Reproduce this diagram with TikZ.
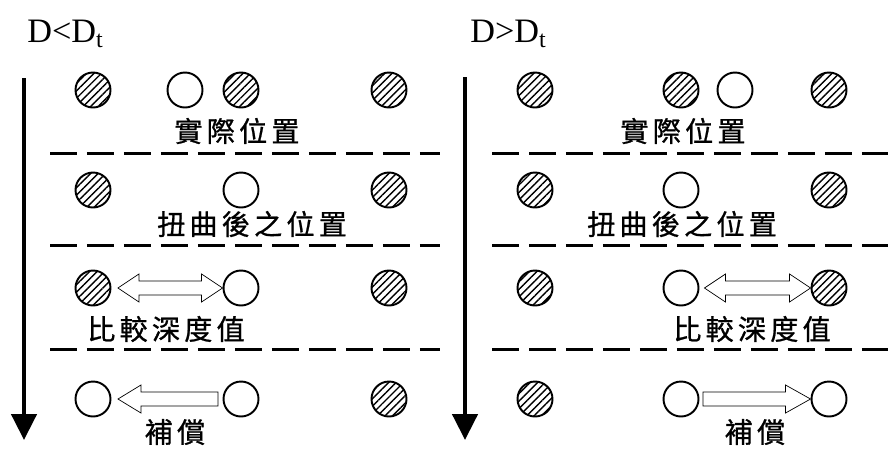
\documentclass[tikz,border=0pt]{standalone}
\usepackage{fontspec}
\setmainfont{Liberation Serif}
\newfontfamily\cjk[LetterSpace=15,FakeBold=0.8]{Noto Sans CJK TC}
\usetikzlibrary{arrows.meta,calc,patterns.meta}

\tikzset{
 dot/.style={circle,draw,line width=1.1pt,minimum size=0.7cm,inner sep=0pt},
 hdot/.style={dot,pattern={Lines[angle=45,distance=3pt,line width=0.8pt]}},
 lbl/.style={font=\cjk\fontsize{16pt}{18pt}\selectfont,inner sep=0pt},
 ttl/.style={font=\fontsize{19.5pt}{22pt}\selectfont,anchor=base west,inner sep=0pt},
 sep/.style={line width=1.7pt,dash pattern=on 0.54cm off 0.2cm},
 timeline/.style={line width=2.6pt,-{Triangle[width=0.5cm,length=0.52cm]}},
 ba gap/.store in=\bagap, ba tip/.store in=\batip, ba head/.store in=\bahead,
 ba gap=0.1cm, ba tip=0cm, ba head=0.42cm,
 % hollow block arrow, one head
 barrow/.style={draw,line width=1pt,to path={
   ($(\tikztostart)!\bagap!(\tikztotarget)$) coordinate (ba-s)
   ($(\tikztotarget)!\batip!(\tikztostart)$) coordinate (ba-t)
   ($(ba-t)!\bahead!(ba-s)$) coordinate (ba-p)
   ($(ba-s)!0.14cm!90:(ba-t)$) -- ($(ba-p)!0.14cm!90:(ba-t)$)
   -- ($(ba-p)!0.28cm!90:(ba-t)$) -- (ba-t)
   -- ($(ba-p)!0.28cm!-90:(ba-t)$) -- ($(ba-p)!0.14cm!-90:(ba-t)$)
   -- ($(ba-s)!0.14cm!-90:(ba-t)$) -- cycle}},
 % hollow block arrow, two heads
 dbarrow/.style={draw,line width=1pt,to path={
   ($(\tikztostart)!\bagap!(\tikztotarget)$) coordinate (ba-s)
   ($(\tikztotarget)!\batip!(\tikztostart)$) coordinate (ba-t)
   ($(ba-s)!\bahead!(ba-t)$) coordinate (ba-q)
   ($(ba-t)!\bahead!(ba-s)$) coordinate (ba-p)
   (ba-s) -- ($(ba-q)!0.28cm!90:(ba-t)$) -- ($(ba-q)!0.14cm!90:(ba-t)$)
   -- ($(ba-p)!0.14cm!90:(ba-t)$) -- ($(ba-p)!0.28cm!90:(ba-t)$) -- (ba-t)
   -- ($(ba-p)!0.28cm!-90:(ba-t)$) -- ($(ba-p)!0.14cm!-90:(ba-t)$)
   -- ($(ba-q)!0.14cm!-90:(ba-t)$) -- ($(ba-q)!0.28cm!-90:(ba-t)$) -- cycle}},
}

\begin{document}
\begin{tikzpicture}[x=0.02cm,y=-0.02cm]
 \useasboundingbox (0,0) rectangle (888,458);

 % D < Dt
 \node[ttl] (ltitle) at (27,42) {D<D\textsubscript{t}};
 \coordinate (ltop) at (24,78);
 \coordinate (lbot) at (24,440);
 \draw[timeline] (ltop) -- (lbot);

 \node[hdot] (la1) at (93,90) {};
 \node[dot] (lo1) at (185,90) {};
 \node[hdot] (lb1) at (241,90) {};
 \node[hdot] (lc1) at (389,90) {};
 \node[lbl] (lt1) at (237,131) {實際位置};
 \draw[sep] (50,153) -- (440,153);

 \node[hdot] (la2) at (93,190) {};
 \node[dot] (lb2) at (241,190) {};
 \node[hdot] (lc2) at (389,190) {};
 \node[lbl] (lt2) at (252,224) {扭曲後之位置};
 \draw[sep] (50,245) -- (440,245);

 \node[hdot] (la3) at (93,288) {};
 \node[dot] (lb3) at (241,288) {};
 \node[hdot] (lc3) at (389,288) {};
 \draw[ba gap=0.13cm] (la3.east) to[dbarrow] (lb3.west);
 \node[lbl] (lt3) at (166,329) {比較深度值};
 \draw[sep] (50,349) -- (440,349);

 \node[dot] (la4) at (93,399) {};
 \node[dot] (lb4) at (241,399) {};
 \node[hdot] (lc4) at (389,399) {};
 \draw[ba gap=0.09cm,ba tip=0.13cm,ba head=0.46cm] (lb4.west) to[barrow] (la4.east);
 \node[lbl] (lt4) at (175,432) {補償};

 % D > Dt
 \node[ttl] (rtitle) at (470,42) {D>D\textsubscript{t}};
 \coordinate (rtop) at (465,77);
 \coordinate (rbot) at (465,440);
 \draw[timeline] (rtop) -- (rbot);

 \node[hdot] (ra1) at (535,90) {};
 \node[hdot] (rb1) at (681,90) {};
 \node[dot] (ro1) at (735,90) {};
 \node[hdot] (rc1) at (829,90) {};
 \node[lbl] (rt1) at (683,131) {實際位置};
 \draw[sep] (492,153) -- (888,153);

 \node[hdot] (ra2) at (535,190) {};
 \node[dot] (rb2) at (681,190) {};
 \node[hdot] (rc2) at (829,190) {};
 \node[lbl] (rt2) at (682,224) {扭曲後之位置};
 \draw[sep] (492,245) -- (888,245);

 \node[hdot] (ra3) at (535,288) {};
 \node[dot] (rb3) at (681,288) {};
 \node[hdot] (rc3) at (829,288) {};
 \draw (rb3.east) to[dbarrow] (rc3.west);
 \node[lbl] (rt3) at (752,329) {比較深度值};
 \draw[sep] (492,349) -- (888,349);

 \node[hdot] (ra4) at (535,399) {};
 \node[dot] (rb4) at (681,399) {};
 \node[dot] (rc4) at (829,399) {};
 \draw[ba gap=0.07cm,ba head=0.5cm] (rb4.east) to[barrow] (rc4.west);
 \node[lbl] (rt4) at (755,432) {補償};
\end{tikzpicture}
\end{document}
